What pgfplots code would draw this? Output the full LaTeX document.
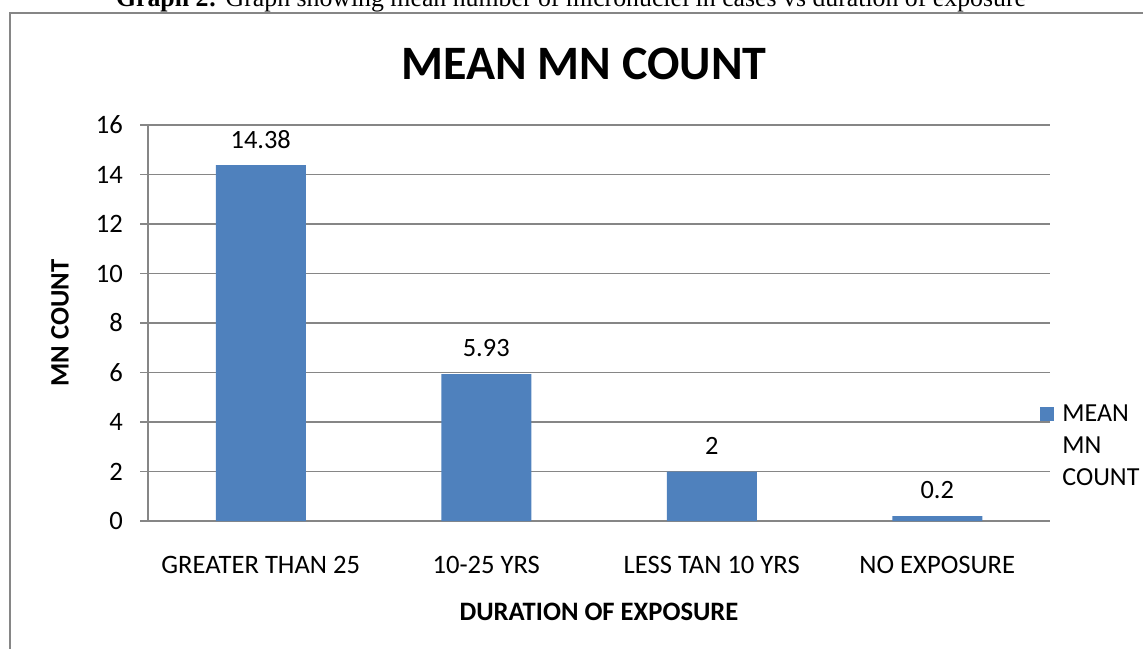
\documentclass[border=0pt]{standalone}
\usepackage{pgfplots}
\pgfplotsset{compat=1.18}
\usepackage{fontspec}
\setmainfont{Carlito}
\newfontfamily\capfont{Liberation Serif}
\definecolor{barblue}{HTML}{4F81BD}
\definecolor{gridgray}{HTML}{868686}
\pgfplotstableread{
x y lab
0 14.38 14.38
1 5.93 5.93
2 2 2
3 0.2 0.2
}\mndata
\begin{document}
\begin{tikzpicture}[x=0.5pt,y=0.5pt]
\clip (0,0) rectangle (1143,648);
\draw[gridgray, line width=1pt] (10,-20) -- (10,635) -- (1170,635);
\node[anchor=base, inner sep=0, font=\capfont\fontsize{12.9}{14}\selectfont] at (571,641) {\textbf{Graph 2:} Graph showing mean number of micronuclei in cases vs duration of exposure};
\node[font=\bfseries\fontsize{24}{28}\selectfont, inner sep=0] at (584,584) {MEAN MN COUNT};
\begin{axis}[at={(74pt,63.5pt)}, anchor=south west, scale only axis,
  width=451pt, height=198pt,
  xmin=-0.5, xmax=3.5, ymin=0, ymax=16, ytick={0,2,...,16},
  xtick={0,1,2,3},
  xticklabels={GREATER THAN 25, 10-25 YRS, LESS TAN 10 YRS, NO EXPOSURE},
  axis x line*=bottom, axis y line*=left,
  axis line style={gridgray, line width=0.6pt, -},
  ymajorgrids, grid style={gridgray, line width=0.6pt},
  xtick style={draw=none},
  ytick style={gridgray, line width=0.6pt},
  tick align=outside, major tick length=4pt,
  /pgf/number format/assume math mode=true,
  ticklabel style={font=\fontsize{13.3}{15}\selectfont},
  yticklabel style={xshift=-5pt},
  xticklabel style={yshift=-10pt},
  xlabel={DURATION OF EXPOSURE}, ylabel={MN COUNT},
  label style={font=\bfseries\fontsize{13.3}{15}\selectfont},
  xlabel style={at={(axis description cs:0.5,0)}, anchor=center, yshift=-45.25pt},
  ylabel style={at={(axis description cs:-0.0976,0.5)}, anchor=center},
  nodes near coords, point meta=explicit symbolic,
  every node near coord/.append style={font=\fontsize{13.2}{15}\selectfont, anchor=center, yshift=13pt, black},
  clip=false,
]
\addplot[ybar, bar width=45pt, fill=barblue, draw=none] table[x=x, y=y, meta=lab] {\mndata};
\end{axis}
\fill[barblue] (1040,227) rectangle (1054,241);
\node[anchor=base west, inner sep=0, font=\fontsize{13}{15}\selectfont] at (1062,227) {MEAN};
\node[anchor=base west, inner sep=0, font=\fontsize{13}{15}\selectfont] at (1062,195) {MN};
\node[anchor=base west, inner sep=0, font=\fontsize{13}{15}\selectfont] at (1062,163) {COUNT};
\end{tikzpicture}
\end{document}
